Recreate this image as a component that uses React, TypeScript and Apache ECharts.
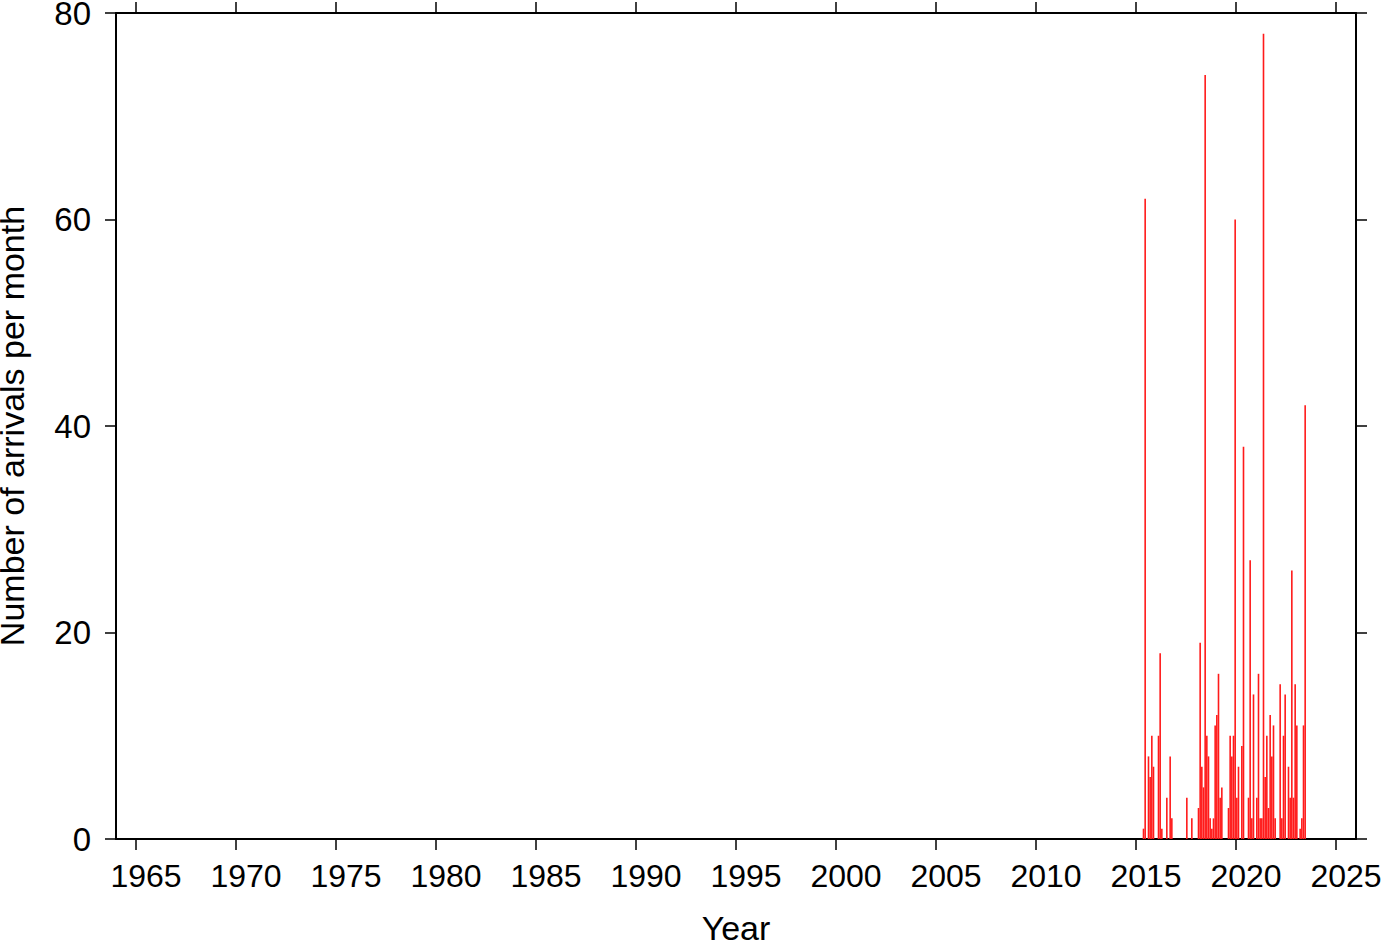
import React, { useEffect, useRef } from "react";
import * as echarts from "echarts";

const months: string[] = [
  "2015-05", "2015-06", "2015-08", "2015-09", "2015-10", "2015-11",
  "2016-02", "2016-03", "2016-04", "2016-07", "2016-09", "2016-10",
  "2017-07", "2017-10",
  "2018-02", "2018-03", "2018-04", "2018-05", "2018-06", "2018-07", "2018-08", "2018-09", "2018-10", "2018-11", "2018-12",
  "2019-01", "2019-02", "2019-03", "2019-04", "2019-08", "2019-09", "2019-10", "2019-11", "2019-12",
  "2020-01", "2020-02", "2020-04", "2020-05", "2020-08", "2020-09", "2020-10", "2020-11",
  "2021-01", "2021-02", "2021-03", "2021-04", "2021-05", "2021-06", "2021-07", "2021-08", "2021-09", "2021-10", "2021-11", "2021-12",
  "2022-03", "2022-04", "2022-05", "2022-06", "2022-08", "2022-09", "2022-10", "2022-11", "2022-12",
  "2023-01", "2023-03", "2023-04", "2023-05", "2023-06",
];

const counts: number[] = [
  1, 62, 8, 6, 10, 7,
  10, 18, 1, 4, 8, 2,
  4, 2,
  3, 19, 7, 5, 74, 10, 8, 2, 1, 2, 11,
  12, 16, 4, 5, 3, 10, 8, 10, 60,
  4, 7, 9, 38, 4, 27, 2, 14,
  4, 16, 2, 2, 78, 6, 10, 3, 12, 8, 11, 2,
  15, 2, 10, 14, 7, 4, 26, 4, 15,
  11, 1, 2, 11, 42,
];

const yearTicks: number[] = [1965, 1970, 1975, 1980, 1985, 1990, 1995, 2000, 2005, 2010, 2015, 2020, 2025];
const countTicks: number[] = [0, 20, 40, 60, 80];

const FONT = "'Liberation Sans', Helvetica, Arial, sans-serif";

export default function App() {
  const ref = useRef<HTMLDivElement>(null);
  useEffect(() => {
    if (!ref.current) return;
    const chart = echarts.init(ref.current, undefined, { renderer: "svg" });
    const data = months.map((m, i) => {
      const [y, mo] = m.split("-").map(Number);
      return [y + (mo - 1 + 0.5) / 12, counts[i]];
    });
    const axisLine = { show: true, onZero: false, lineStyle: { color: "#000", width: 2 } };
    const tickStyle = { color: "#000", width: 1.5 };
    chart.setOption({
      animation: false,
      backgroundColor: "#fff",
      grid: { left: 116, right: 26, top: 13, bottom: 103, containLabel: false, outerBoundsMode: "none" },
      xAxis: [
        {
          type: "value",
          min: 1964,
          max: 2026,
          position: "bottom",
          axisLine,
          splitLine: { show: false },
          axisTick: { show: true, inside: false, length: 11, lineStyle: tickStyle, customValues: yearTicks },
          axisLabel: {
            show: true,
            customValues: yearTicks,
            color: "#000",
            fontSize: 32,
            fontFamily: FONT,
            margin: 21,
            padding: [0, 0, 0, 20],
            formatter: (v: number) => String(v),
          },
          name: "Year",
          nameLocation: "middle",
          nameGap: 72,
          nameTextStyle: { color: "#000", fontSize: 34, fontFamily: FONT },
        },
        {
          type: "value",
          min: 1964,
          max: 2026,
          position: "top",
          axisLine,
          splitLine: { show: false },
          axisTick: { show: true, inside: false, length: 11, lineStyle: tickStyle, customValues: yearTicks },
          axisLabel: { show: false },
        },
      ],
      yAxis: [
        {
          type: "value",
          min: 0,
          max: 80,
          interval: 20,
          position: "left",
          axisLine,
          splitLine: { show: false },
          axisTick: { show: true, inside: false, length: 11, lineStyle: tickStyle, customValues: countTicks },
          axisLabel: {
            show: true,
            customValues: countTicks,
            color: "#000",
            fontSize: 33,
            fontFamily: FONT,
            margin: 25,
          },
          name: "Number of arrivals per month",
          nameLocation: "middle",
          nameGap: 87,
          nameTextStyle: { color: "#000", fontSize: 34, fontFamily: FONT },
        },
        {
          type: "value",
          min: 0,
          max: 80,
          interval: 20,
          position: "right",
          axisLine,
          splitLine: { show: false },
          axisTick: { show: true, inside: false, length: 11, lineStyle: tickStyle },
          axisLabel: { show: false },
        },
      ],
      series: [
        {
          type: "bar",
          xAxisIndex: 0,
          yAxisIndex: 0,
          data,
          barWidth: 1.6,
          itemStyle: { color: "#ff1a1a" },
        },
      ],
    });
    return () => chart.dispose();
  }, []);
  return (
    <div
      ref={ref}
      style={{ position: "fixed", left: 0, top: 0, width: 1382, height: 942, background: "#fff" }}
    />
  );
}
